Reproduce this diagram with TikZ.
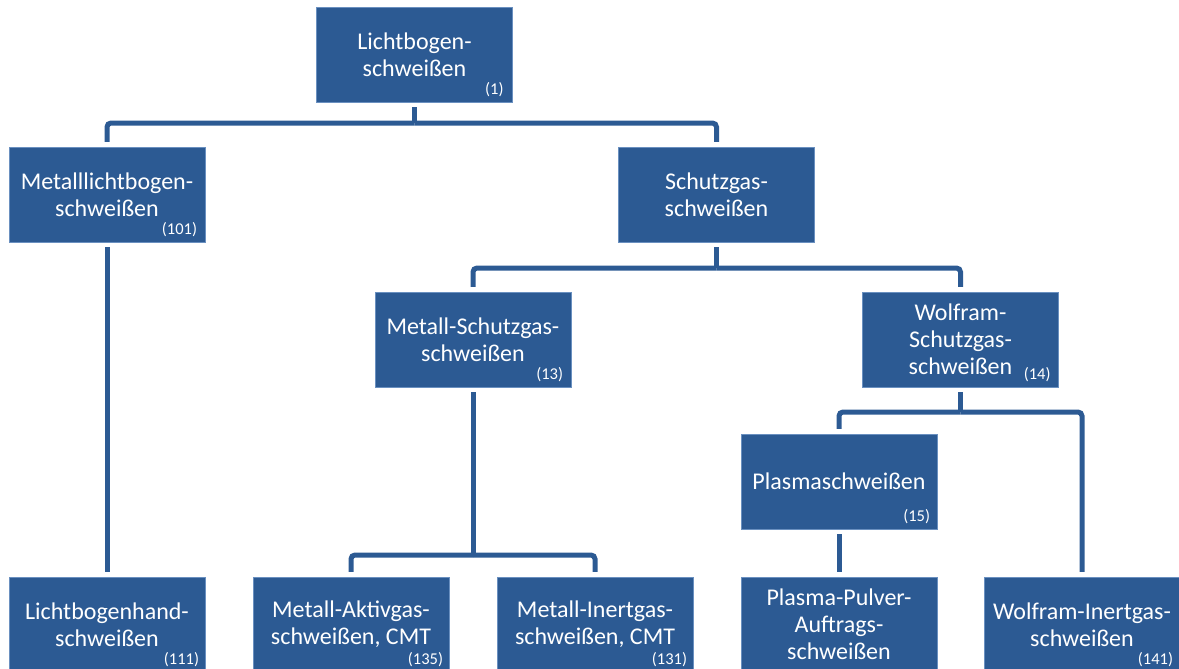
\documentclass[tikz,border=0pt]{standalone}
\usepackage{fontspec}
\setmainfont{Carlito}
\definecolor{boxblue}{HTML}{2C5A93}
\definecolor{edgeblue}{HTML}{6A90C0}
\begin{document}
\begin{tikzpicture}[x=1pt,y=-1pt,
  wbox/.style={rectangle, fill=boxblue, draw=edgeblue, line width=0.5pt, minimum width=196pt, minimum height=95pt, inner sep=0pt},
  wtext/.style={text=white, align=center, font=\fontsize{24}{27}\selectfont, inner sep=0pt},
  wnum/.style={text=white, font=\fontsize{16.5}{19}\selectfont, anchor=base east, inner sep=0pt},
  conn/.style={draw=boxblue, line width=5pt, rounded corners=4pt},
  stub/.style={draw=boxblue, line width=5pt}]
\useasboundingbox (0,0) rectangle (1179,669);
\clip (0,0) rectangle (1179,669);

% boxes
\node[wbox] (b1) at (414.5,54.5) {};
\node[wbox] (b2) at (107,194.5) {};
\node[wbox] (b3) at (716.5,194.5) {};
\node[wbox] (b4) at (473,339.5) {};
\node[wbox] (b5) at (960.5,339.5) {};
\node[wbox] (b6) at (839,481.5) {};
\node[wbox] (b7) at (107,624.5) {};
\node[wbox] (b8) at (351,624.5) {};
\node[wbox] (b9) at (595,624.5) {};
\node[wbox] (b10) at (839,624.5) {};
\node[wbox] (b11) at (1082,624.5) {};

% texts
\node[wtext] (t1) at (b1) {Lichtbogen-\\schweißen};
\node[wtext] (t2) at (b2) {Metalllichtbogen-\\schweißen};
\node[wtext] (t3) at (b3) {Schutzgas-\\schweißen};
\node[wtext] (t4) at (b4) {Metall-Schutzgas-\\schweißen};
\node[wtext] (t5) at (b5) {Wolfram-\\Schutzgas-\\schweißen};
\node[wtext] (t6) at (b6) {Plasmaschweißen};
\node[wtext] (t7) at (b7) {Lichtbogenhand-\\schweißen};
\node[wtext] (t8) at (b8) {Metall-Aktivgas-\\schweißen, CMT};
\node[wtext] (t9) at (b9) {Metall-Inertgas-\\schweißen, CMT};
\node[wtext] (t10) at (b10) {Plasma-Pulver-\\Auftrags-\\schweißen};
\node[wtext] (t11) at (b11) {Wolfram-Inertgas-\\schweißen};

% numbers
\node[wnum] (n1) at ([xshift=-9pt,yshift=8pt]b1.south east) {(1)};
\node[wnum] (n2) at ([xshift=-8pt,yshift=8pt]b2.south east) {(101)};
\node[wnum] (n4) at ([xshift=-8pt,yshift=8pt]b4.south east) {(13)};
\node[wnum] (n5) at ([xshift=-8pt,yshift=8pt]b5.south east) {(14)};
\node[wnum] (n6) at ([xshift=-7pt,yshift=8pt]b6.south east) {(15)};
\node[wnum] (n7) at ([xshift=-6pt,yshift=8pt]b7.south east) {(111)};
\node[wnum] (n8) at ([xshift=-6pt,yshift=8pt]b8.south east) {(135)};
\node[wnum] (n9) at ([xshift=-6pt,yshift=8pt]b9.south east) {(131)};
\node[wnum] (n11) at ([xshift=-7pt,yshift=8pt]b11.south east) {(141)};

% bus coordinates
\coordinate (bus1) at (414.5,123);
\coordinate (bus2) at (716.5,268);
\coordinate (bus3) at (960.5,412);
\coordinate (bus4) at (473,555);

% connectors
\draw[stub] ([yshift=-5pt]b1.south) -- (bus1);
\draw[conn] (bus1) -| ([yshift=5pt]b2.north);
\draw[conn] (bus1) -| ([yshift=5pt]b3.north);
\draw[stub] ([yshift=-5pt]b3.south) -- (bus2);
\draw[conn] (bus2) -| ([yshift=5pt]b4.north);
\draw[conn] (bus2) -| ([yshift=5pt]b5.north);
\draw[stub] ([yshift=-5pt]b5.south) -- (bus3);
\draw[conn] (bus3) -| ([yshift=5pt]b6.north);
\draw[conn] (bus3) -| ([yshift=5pt]b11.north);
\draw[stub] ([yshift=-5pt]b4.south) -- (bus4);
\draw[conn] (bus4) -| ([yshift=5pt]b8.north);
\draw[conn] (bus4) -| ([yshift=5pt]b9.north);
\draw[stub] ([yshift=-5pt]b2.south) -- ([yshift=5pt]b7.north);
\draw[stub] ([yshift=-5pt]b6.south) -- ([yshift=5pt]b10.north);
\end{tikzpicture}
\end{document}
